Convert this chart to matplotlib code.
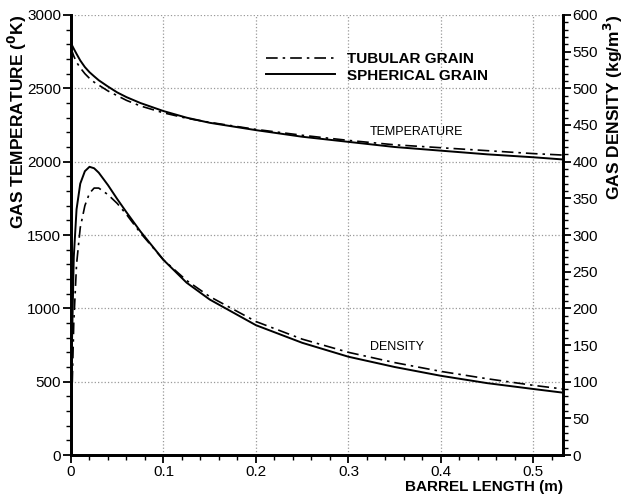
import matplotlib
matplotlib.use("Agg")
import matplotlib.pyplot as plt
from matplotlib.ticker import MultipleLocator

plt.rcParams['font.family'] = ['Liberation Sans', 'DejaVu Sans']

# Barrel length (m)
x = [0, 0.001, 0.003, 0.006, 0.01, 0.015, 0.02, 0.025, 0.03, 0.04, 0.05, 0.06,
     0.075, 0.1, 0.125, 0.15, 0.2, 0.25, 0.3, 0.35, 0.4, 0.45, 0.5, 0.532]

# Gas temperature (K)
temp_tubular = [2775, 2755, 2720, 2678, 2640, 2600, 2568, 2542, 2522, 2482, 2450, 2418,
                2380, 2333, 2296, 2268, 2220, 2180, 2145, 2115, 2095, 2075, 2055, 2045]
temp_spherical = [2810, 2795, 2770, 2735, 2690, 2645, 2610, 2582, 2555, 2512, 2472, 2440,
                  2400, 2345, 2300, 2265, 2215, 2170, 2135, 2100, 2075, 2050, 2030, 2015]

# Gas density (kg/m^3)
dens_tubular = [0, 80, 180, 260, 310, 340, 357, 364, 364, 355, 343, 328,
                303, 266, 238, 216, 182, 158, 140, 126, 114, 104, 95, 90]
dens_spherical = [0, 150, 270, 335, 370, 387, 393, 391, 385, 368, 349, 331,
                  305, 266, 235, 212, 177, 153, 134, 120, 108, 98, 90, 85]

dashdot = (0, (7, 3, 1.5, 3))

fig = plt.figure(figsize=(6.25, 4.95), dpi=100)
ax = fig.add_axes([0.1136, 0.0808, 0.7872, 0.8889])
ax2 = ax.twinx()

ax.plot(x, temp_tubular, color='black', lw=1.2, ls=dashdot, label='TUBULAR GRAIN')
ax.plot(x, temp_spherical, color='black', lw=1.4, label='SPHERICAL GRAIN')
ax2.plot(x, dens_tubular, color='black', lw=1.2, ls=dashdot)
ax2.plot(x, dens_spherical, color='black', lw=1.4)

ax.set_xlim(0, 0.532)
ax.set_ylim(0, 3000)
ax2.set_ylim(0, 600)

ax.xaxis.set_minor_locator(MultipleLocator(0.02))
ax.yaxis.set_major_locator(MultipleLocator(500))
ax.yaxis.set_minor_locator(MultipleLocator(100))
ax2.yaxis.set_major_locator(MultipleLocator(50))
ax2.yaxis.set_minor_locator(MultipleLocator(10))

ax.set_xticks([0, 0.1, 0.2, 0.3, 0.4, 0.5])
ax.set_xticklabels(['0', '0.1', '0.2', '0.3', '0.4', '0.5'])

for a in (ax, ax2):
    a.tick_params(which='major', direction='out', length=6, width=1.3, labelsize=11, pad=1)
    a.tick_params(which='minor', direction='out', length=3.5, width=1)
    a.spines['top'].set_visible(False)
    for s in ('left', 'right', 'bottom'):
        a.spines[s].set_linewidth(2)

ax.grid(True, which='major', color='#999999', ls=':', lw=0.9)

ax.set_xlabel('BARREL LENGTH (m)', fontsize=11, fontweight='bold', loc='right', labelpad=1)
ax.set_ylabel(r'GAS TEMPERATURE ($\mathbf{^0}$K)', fontsize=12.5, fontweight='bold',
              loc='top', labelpad=-1)
ax2.set_ylabel(r'GAS DENSITY (kg/m$\mathbf{^3}$)', fontsize=12.5, fontweight='bold',
               loc='top', labelpad=3)

ax.text(0.323, 2202, 'TEMPERATURE', fontsize=9, va='center')
ax.text(0.323, 736, 'DENSITY', fontsize=9, va='center')

leg = ax.legend(loc='upper left', bbox_to_anchor=(0.384, 0.929), frameon=False,
                handlelength=4.5, labelspacing=0.15, handletextpad=0.8,
                borderaxespad=0, prop={'weight': 'bold', 'size': 11})

fig.savefig('out.png', dpi=100)
